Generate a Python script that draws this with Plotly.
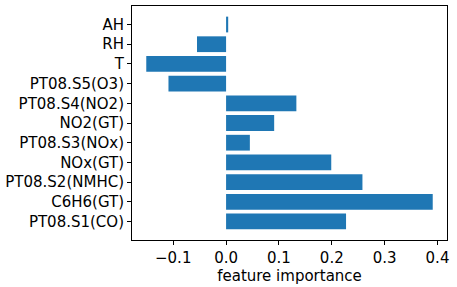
import plotly.graph_objects as go

features = ["PT08.S1(CO)", "C6H6(GT)", "PT08.S2(NMHC)", "NOx(GT)", "PT08.S3(NOx)",
            "NO2(GT)", "PT08.S4(NO2)", "PT08.S5(O3)", "T", "RH", "AH"]
importance = [0.227, 0.391, 0.258, 0.199, 0.045, 0.091, 0.133, -0.109, -0.151, -0.055, 0.004]
x_ticks = [-0.1, 0.0, 0.1, 0.2, 0.3, 0.4]
x_tick_labels = ["\u22120.1", "0.0", "0.1", "0.2", "0.3", "0.4"]

fig = go.Figure(go.Bar(
    x=importance, y=list(range(len(features))), orientation="h",
    width=0.8, marker=dict(color="#1f77b4", line=dict(width=0)),
))

font = dict(family="DejaVu Sans", size=15, color="black")
fig.update_layout(
    width=457, height=287,
    margin=dict(l=132, r=10, t=6, b=47),
    paper_bgcolor="white", plot_bgcolor="white",
    font=font, showlegend=False,
    xaxis=dict(range=[-0.178, 0.418], tickvals=x_ticks, ticktext=x_tick_labels,
               showgrid=False, zeroline=False, showline=True, linecolor="black",
               linewidth=1, mirror=True, ticks="outside", ticklen=4, tickcolor="black",
               title=dict(text="feature importance", font=font, standoff=0),
               tickfont=font),
    yaxis=dict(range=[-0.94, 10.94], tickvals=list(range(len(features))), ticktext=features,
               showgrid=False, zeroline=False, showline=True, linecolor="black",
               linewidth=1, mirror=True, ticks="outside", ticklen=4, tickcolor="black",
               tickfont=font),
)
fig.write_html("out.html", config={"displayModeBar": False},
               post_script="document.body.style.margin='0';document.body.style.overflow='hidden';")
